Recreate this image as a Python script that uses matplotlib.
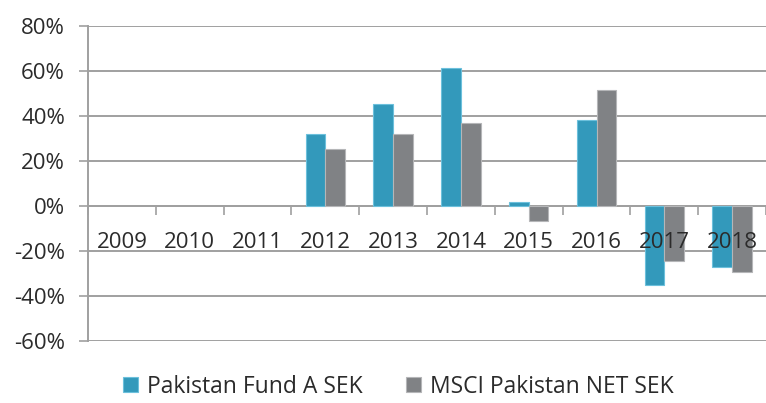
import matplotlib

matplotlib.use("Agg")
import matplotlib.pyplot as plt
import numpy as np

years = ["2009", "2010", "2011", "2012", "2013", "2014", "2015", "2016", "2017", "2018"]
fund = [np.nan, np.nan, np.nan, 32.1, 45.2, 61.5, 1.8, 38.2, -35.3, -27.3]
msci = [np.nan, np.nan, np.nan, 25.2, 32.1, 36.7, -6.5, 51.4, -24.4, -29.5]
series_names = ["Pakistan Fund A SEK", "MSCI Pakistan NET SEK"]
y_ticks = [-60, -40, -20, 0, 20, 40, 60, 80]

plt.rcParams["font.family"] = ["Open Sans", "DejaVu Sans"]
text_color = "#2b2b2b"
grid_color = "#a0a0a0"

fig = plt.figure(figsize=(7.66, 4.03), dpi=100)
ax = fig.add_axes([0.1149, 0.1538, 0.8851, 0.7817])

x = np.arange(len(years))
w = 0.29
ax.bar(x - w / 2, fund, width=w, color="#3399bb", edgecolor="#6cc0dc", linewidth=0.8,
       label=series_names[0], zorder=3)
ax.bar(x + w / 2, msci, width=w, color="#808285", edgecolor="#b5b6b8", linewidth=0.8,
       label=series_names[1], zorder=3)

ax.set_xlim(-0.5, len(years) - 0.5)
ax.set_ylim(-60, 80)
ax.set_yticks(y_ticks)
ax.set_yticklabels([f"{v}%" for v in y_ticks])
ax.yaxis.grid(True, color=grid_color, linewidth=1.4)
ax.set_axisbelow(True)

# category boundaries as ticks on the zero line, year labels in between
ax.spines["bottom"].set_position(("data", 0))
ax.set_xticks(np.arange(len(years) + 1) - 0.5)
ax.set_xticklabels([])
ax.set_xticks(x, minor=True)
ax.set_xticklabels(years, minor=True)
ax.tick_params(axis="x", which="major", length=6.5, width=1.2, color=grid_color, direction="out")
ax.tick_params(axis="x", which="minor", length=0, pad=19, labelsize=16, labelcolor=text_color)
ax.tick_params(axis="y", length=6.5, width=1.2, color=grid_color, pad=10, labelsize=16,
               labelcolor=text_color)
# year labels sit on top of the bars
ax.xaxis.set_zorder(5)

for side in ["top", "right"]:
    ax.spines[side].set_visible(False)
ax.spines["left"].set_color(grid_color)
ax.spines["left"].set_linewidth(1.4)
ax.spines["bottom"].set_color(grid_color)
ax.spines["bottom"].set_linewidth(1.4)

fig.legend(loc="center", bbox_to_anchor=(0.52, 0.04), ncol=2, frameon=False,
           fontsize=16.5, labelcolor=text_color, handlelength=0.65, handleheight=0.65,
           handletextpad=0.4, columnspacing=1.9)

fig.savefig("out.png", dpi=100)
